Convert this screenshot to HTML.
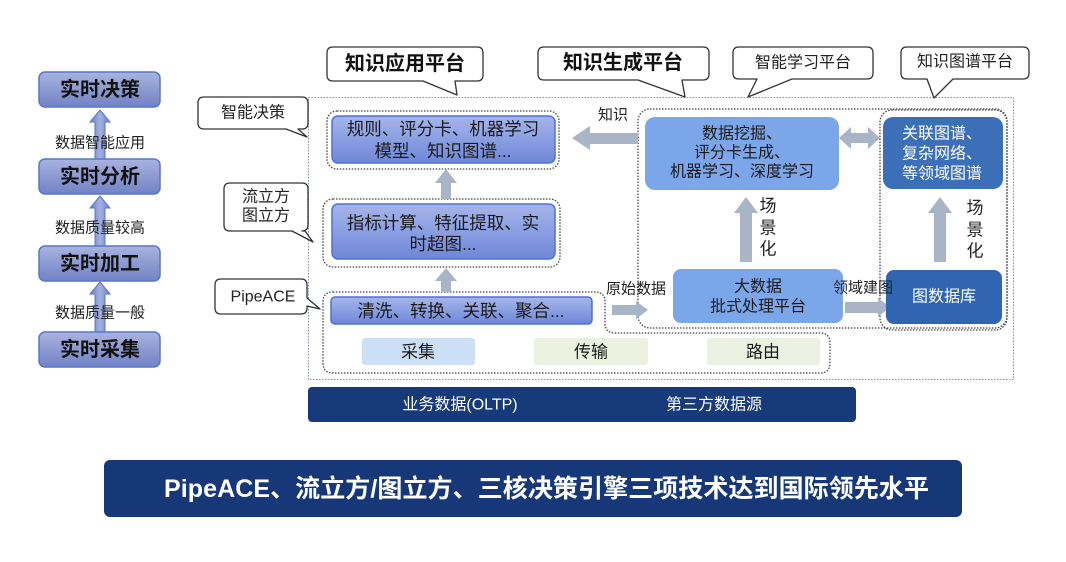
<!DOCTYPE html>
<html><head><meta charset="utf-8">
<style>
html,body{margin:0;padding:0;background:#fff;}
svg{display:block;}
text{font-family:"Liberation Sans","Noto Sans CJK SC",sans-serif;}
</style></head>
<body>
<svg width="1066" height="562" viewBox="0 0 1066 562" xmlns="http://www.w3.org/2000/svg">
<defs>
<linearGradient id="gL" x1="0" y1="0" x2="0" y2="1">
<stop offset="0" stop-color="#a8b3df"/><stop offset="1" stop-color="#7282c5"/>
</linearGradient>
<linearGradient id="gP" x1="0" y1="0" x2="0" y2="1">
<stop offset="0" stop-color="#a6b5ea"/><stop offset="1" stop-color="#6f87d9"/>
</linearGradient>
<linearGradient id="gA" x1="0" y1="0" x2="1" y2="0">
<stop offset="0" stop-color="#6b80c8"/><stop offset="0.5" stop-color="#a3b0e0"/><stop offset="1" stop-color="#6b80c8"/>
</linearGradient>
</defs>

<!-- LEFT COLUMN -->
<g stroke="#5a76c4" stroke-width="1" fill="url(#gA)">
<polygon points="100,110 110,122 105,122 105,159 95,159 95,122 90,122"/>
<polygon points="100,196 110,208 105,208 105,246 95,246 95,208 90,208"/>
<polygon points="100,282 110,294 105,294 105,332 95,332 95,294 90,294"/>
</g>
<g fill="url(#gL)" stroke="#5877c8" stroke-width="1.5">
<rect x="39" y="72" width="121" height="35" rx="6"/>
<rect x="39" y="159" width="121" height="35" rx="6"/>
<rect x="39" y="246" width="121" height="35" rx="6"/>
<rect x="39" y="332" width="121" height="35" rx="6"/>
</g>
<g font-size="20" font-weight="bold" fill="#111" text-anchor="middle" dominant-baseline="central">
<text x="100" y="90">实时决策</text>
<text x="100" y="177">实时分析</text>
<text x="100" y="264">实时加工</text>
<text x="100" y="350">实时采集</text>
</g>
<g font-size="15" fill="#222" text-anchor="middle" dominant-baseline="central">
<text x="100" y="143">数据智能应用</text>
<text x="100" y="228">数据质量较高</text>
<text x="100" y="313">数据质量一般</text>
</g>

<!-- OUTER DOTTED -->
<rect x="308.5" y="97.5" width="705" height="282" fill="none" stroke="#8090b0" stroke-width="1" stroke-dasharray="1.5 1.5"/>

<!-- CALLOUTS -->
<g fill="#fff" stroke="#333" stroke-width="1.3" stroke-linejoin="round">
<!-- 智能决策 -->
<path d="M204,97 H302 Q308,97 308,103 V123 Q308,129 302,129 H298 L307,137 L286,129 H204 Q198,129 198,123 V103 Q198,97 204,97 Z"/>
<!-- 流立方 -->
<path d="M230,183 H302 Q308,183 308,189 V225 Q308,231 302,231 H305 L313,242 L292,231 H230 Q224,231 224,225 V189 Q224,183 230,183 Z"/>
<!-- PipeACE -->
<path d="M221,279 H301 Q307,279 307,285 V298 L320,309 L307,306 V308 Q307,314 301,314 H221 Q215,314 215,308 V285 Q215,279 221,279 Z"/>
<!-- 知识应用平台 -->
<path d="M333,47 H477 Q483,47 483,53 V75 Q483,81 477,81 H455 L457,95 L423,81 H333 Q327,81 327,75 V53 Q327,47 333,47 Z"/>
<!-- 知识生成平台 -->
<path d="M544,47 H703 Q709,47 709,53 V74 Q709,80 703,80 H682 L685,97 L638,80 H544 Q538,80 538,74 V53 Q538,47 544,47 Z"/>
<!-- 智能学习平台 -->
<path d="M739,47 H867 Q873,47 873,53 V73 Q873,79 867,79 H792 L748,97 L757,79 H739 Q733,79 733,73 V53 Q733,47 739,47 Z"/>
<!-- 知识图谱平台 -->
<path d="M907,47 H1023 Q1029,47 1029,53 V73 Q1029,79 1023,79 H953 L934,98 L927,79 H907 Q901,79 901,73 V53 Q901,47 907,47 Z"/>
</g>
<g font-size="16" fill="#222" text-anchor="middle" dominant-baseline="central">
<text x="253" y="113">智能决策</text>
<text x="266" y="197">流立方</text>
<text x="266" y="216">图立方</text>
<text x="263" y="297">PipeACE</text>
<text x="803" y="63">智能学习平台</text>
<text x="965" y="62">知识图谱平台</text>
</g>
<g font-size="20" font-weight="bold" fill="#111" text-anchor="middle" dominant-baseline="central">
<text x="405" y="64">知识应用平台</text>
<text x="623" y="63">知识生成平台</text>
</g>

<!-- DOTTED GROUPS -->
<g fill="none" stroke="#444" stroke-width="1.3" stroke-dasharray="1.5 1.5">
<rect x="327" y="111" width="232" height="58" rx="10"/>
<rect x="323" y="199" width="237" height="68" rx="10"/>
<path d="M333,292 H595 Q605,292 605,302 V323 Q605,333 615,333 H820 Q830,333 830,343 V363 Q830,373 820,373 H333 Q323,373 323,363 V302 Q323,292 333,292 Z"/>
<rect x="638" y="109" width="369" height="219" rx="12"/>
<rect x="880" y="110" width="127" height="220" rx="12"/>
</g>

<!-- GRAY ARROWS -->
<g fill="#a9b4c6">
<polygon points="446,169 457,183 451,183 451,199 441,199 441,183 435,183"/>
<polygon points="446,268 457,281 451,281 451,292 441,292 441,281 435,281"/>
<polygon points="572,138 590,126 590,133 638,133 638,144 590,144 590,150"/>
<polygon points="648,310 636,301 636,305 612,305 612,315 636,315 636,319"/>
<polygon points="839,138 851,127 851,133 868,133 868,127 880,138 868,149 868,143 851,143 851,149"/>
<polygon points="746,197 758,213 752,213 752,262 740,262 740,213 734,213"/>
<polygon points="940,197 952,213 946,213 946,262 934,262 934,213 928,213"/>
<polygon points="890,307 878,298 878,302 845,302 845,313 878,313 878,317"/>
</g>

<!-- APPLICATION BOXES -->
<g fill="url(#gP)" stroke="#4e70d4" stroke-width="1.5">
<rect x="332" y="116" width="223" height="47" rx="6"/>
<rect x="332" y="204" width="223" height="55" rx="6"/>
<rect x="331" y="297" width="261" height="27" rx="4"/>
</g>
<g font-size="17.5" fill="#1a1a1a" text-anchor="middle" dominant-baseline="central">
<text x="443" y="129">规则、评分卡、机器学习</text>
<text x="443" y="151">模型、知识图谱...</text>
<text x="443" y="223">指标计算、特征提取、实</text>
<text x="443" y="244">时超图...</text>
<text x="461" y="311">清洗、转换、关联、聚合...</text>
</g>

<rect x="362" y="338" width="113" height="27" rx="3" fill="#cddff5"/>
<rect x="534" y="338" width="114" height="27" rx="3" fill="#ebf0df"/>
<rect x="707" y="338" width="113" height="27" rx="3" fill="#ecf0e0"/>
<g font-size="17" fill="#1a1a1a" text-anchor="middle" dominant-baseline="central">
<text x="418" y="352">采集</text>
<text x="591" y="352">传输</text>
<text x="763" y="352">路由</text>
</g>

<!-- BUSINESS DATA BAR -->
<rect x="308" y="387" width="548" height="35" rx="4" fill="#173a7a"/>
<g font-size="16" fill="#fff" text-anchor="middle" dominant-baseline="central">
<text x="460" y="405">业务数据(OLTP)</text>
<text x="714" y="405">第三方数据源</text>
</g>

<!-- LEARNING / GRAPH BOXES -->
<rect x="645" y="117" width="194" height="73" rx="10" fill="#7ba6e9"/>
<rect x="883" y="117" width="120" height="72" rx="10" fill="#3b6fb8"/>
<rect x="673" y="269" width="170" height="54" rx="8" fill="#7ba6e9"/>
<rect x="886" y="270" width="116" height="54" rx="8" fill="#2f65b1"/>
<g font-size="16" fill="#1a1a1a" text-anchor="middle" dominant-baseline="central">
<text x="742" y="134">数据挖掘、</text>
<text x="742" y="153">评分卡生成、</text>
<text x="742" y="172">机器学习、深度学习</text>
<text x="758" y="287">大数据</text>
<text x="758" y="307">批式处理平台</text>
</g>
<g font-size="16" fill="#fff" dominant-baseline="central">
<text x="902" y="134">关联图谱、</text>
<text x="902" y="154">复杂网络、</text>
<text x="902" y="174">等领域图谱</text>
<text x="944" y="297" text-anchor="middle">图数据库</text>
</g>

<g font-size="15" fill="#222" text-anchor="middle" dominant-baseline="central">
<text x="613" y="115">知识</text>
<text x="636" y="289">原始数据</text>
<text x="863" y="288">领域建图</text>
</g>
<g font-size="17" fill="#222" text-anchor="middle" dominant-baseline="central">
<text x="768" y="206">场</text>
<text x="768" y="228">景</text>
<text x="768" y="249">化</text>
<text x="975" y="208">场</text>
<text x="975" y="230">景</text>
<text x="975" y="251">化</text>
</g>

<!-- TITLE BANNER -->
<rect x="104" y="460" width="858" height="57" rx="6" fill="#163878"/>
<text x="164" y="489" font-size="25" font-weight="bold" fill="#fff" dominant-baseline="central" textLength="765" lengthAdjust="spacing">PipeACE、流立方/图立方、三核决策引擎三项技术达到国际领先水平</text>
</svg>
</body></html>
